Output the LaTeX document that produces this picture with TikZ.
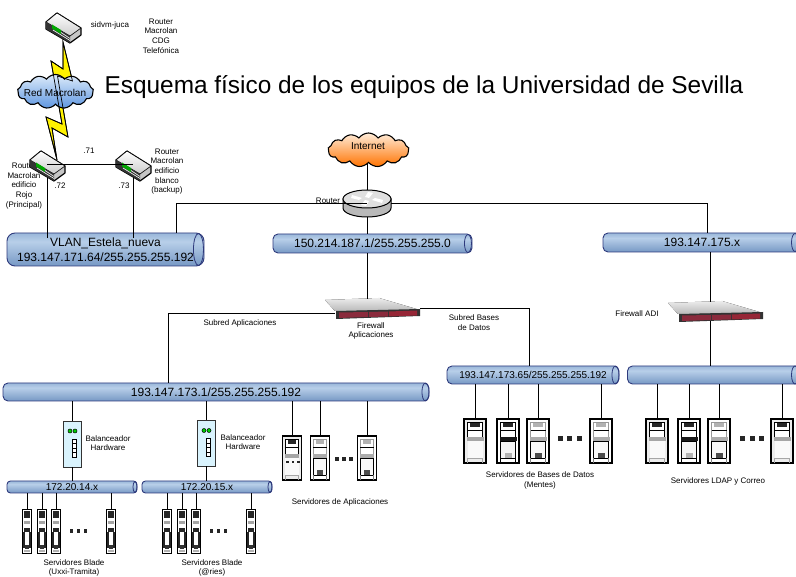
\documentclass[tikz,border=0pt]{standalone}
\usepackage{fontspec}
\setmainfont{Liberation Sans}
\usetikzlibrary{shapes.symbols}

\definecolor{tuboclaro}{HTML}{B8CFE9}
\definecolor{tubomedio}{HTML}{5F88BA}
\definecolor{tubooscuro}{HTML}{4A73AB}
\definecolor{tuboborde}{HTML}{2E3A7C}
\definecolor{nubeclara}{HTML}{DDEBFA}
\definecolor{nubeazul}{HTML}{5E96E0}
\definecolor{rojofw}{HTML}{8A2A3C}

\pgfdeclareverticalshading{tubosh}{100bp}{color(0bp)=(tubooscuro); color(62bp)=(tuboclaro); color(100bp)=(tubomedio)}

\tikzset{
    linea/.style={draw=black, line width=1pt},
    rotulo/.style={font=\fontsize{8}{9.7}\selectfont, align=center, inner sep=0pt},
    rotulonube/.style={font=\fontsize{10}{12}\selectfont, inner sep=0pt},
    tubo/.style={draw=tuboborde, line width=.9pt, inner sep=0pt, rounded corners=5pt,
        shading=tubosh, align=center},
    tubogr/.style={tubo, font=\fontsize{12}{15}\selectfont},
    tubopq/.style={tubo, font=\fontsize{10}{12}\selectfont},
    tapa/.style={draw=tuboborde, line width=.8pt},
    nube/.style={cloud, cloud puffs=13, cloud puff arc=110, draw=black, line width=1.1pt, inner sep=0pt},
    routerp/.pic={
        \draw[fill=gray!45, line width=1.2pt, line join=round] (-17,-6) -- (-6,-15) -- (18,0) -- (18,7) -- (7,15) -- (-17,1) -- cycle;
        \draw[top color=white, bottom color=gray!40, line width=.6pt, line join=round] (-17,-6) -- (-6,-15) -- (18,0) -- (7,8) -- cycle;
        \fill[black!80] (-17,-6) -- (7,8) -- (7,15) -- (-17,1) -- cycle;
        \fill[green!65!black] (-11,-3.5) -- (-2,2) -- (-2,6) -- (-11,0.5) -- cycle;
        \draw[white, line width=.6pt] (-2,4.5) -- (7,10.5) (-10,2) -- (7,12.5);
        \coordinate (-bot) at (0,12);
        \coordinate (-rayoa) at (0,14);
        \coordinate (-rayob) at (10,-6);
    },
    routerc/.pic={
        \draw[fill=gray!55, line width=1pt] (-24,0) -- (-24,9) arc[start angle=180, end angle=0, x radius=24, y radius=9] -- (24,0) -- cycle;
        \draw[fill=gray!25, line width=1pt] (0,0) ellipse [x radius=24, y radius=9];
        \fill[white] (-15,-4) -- (-5,-1) -- (-8,1) -- (-16,-1) -- cycle;
        \fill[white] (15,4) -- (5,1) -- (8,-1) -- (16,1) -- cycle;
        \fill[white] (-6,6) -- (-2,1) -- (2,2) -- (-1,7) -- cycle;
        \fill[white] (6,-6) -- (2,-1) -- (-2,-2) -- (1,-7) -- cycle;
        \coordinate (-top) at (0,-9);
        \coordinate (-c) at (0,5);
        \coordinate (-bot) at (0,18);
    },
    firewall/.pic={
        \fill[top color=gray!15, bottom color=gray!55] (-47,-8) -- (7,-10) -- (48,2) -- (-37,3) -- cycle;
        \fill[black!80] (-36,3) -- (48,1) -- (48,8) -- (-36,11) -- cycle;
        \fill[rojofw] (-33,4.5) -- (-4,4) -- (-4,9) -- (-33,10) -- cycle;
        \fill[rojofw] (-3,4) -- (16,3.5) -- (16,8.5) -- (-3,9) -- cycle;
        \fill[rojofw!90!red] (17,3.5) -- (45,2.5) -- (45,7.5) -- (17,8.5) -- cycle;
        \coordinate (-top) at (-5,-9);
        \coordinate (-izq) at (-37,6);
        \coordinate (-der) at (48,1);
        \coordinate (-bot) at (-5,10);
    },
    balanceador/.pic={
        \draw[fill=cyan!15, line width=.9pt, draw=black!80] (-9,-23) rectangle (9,23);
        \draw[fill=green!80!black, line width=.5pt] (-2,-13) circle (2);
        \draw[fill=green!80!black, line width=.5pt] (3,-13) circle (2);
        \draw[fill=white, line width=.7pt] (0,-5) rectangle (4.5,13);
        \draw[line width=.6pt] (0,-0.5) -- (4.5,-0.5) (0,4) -- (4.5,4) (0,8.5) -- (4.5,8.5);
        \coordinate (-top) at (0,-23);
        \coordinate (-bot) at (0,23);
    },
    blade/.pic={
        \draw[fill=white, line width=1pt] (-4.5,-22) rectangle (4.5,22);
        \fill[black!85] (-3,-20.5) rectangle (3,-13);
        \fill[gray!70] (-3,-10) rectangle (3,-7.5);
        \fill[black!85] (-3,-3) rectangle (3,1);
        \fill[black!85] (-4,1) rectangle (-2,17);
        \fill[black!85] (2,1) rectangle (4,17);
        \fill[black!80] (-2,14) rectangle (2,18);
        \fill[gray!60] (-3,18.5) rectangle (3,21);
        \coordinate (-top) at (0,-22);
    },
    servidora/.pic={
        \draw[fill=gray!15, line width=1.2pt] (-11,-22) rectangle (11,22);
        \draw[fill=white, line width=.7pt] (-7.5,-19) rectangle (7.5,-3);
        \fill[black!85] (-5,-17.5) rectangle (5,-14);
        \draw[line width=.6pt] (-7.5,-11) -- (7.5,-11);
        \fill[gray!70] (-8.5,-4) rectangle (8.5,0);
        \fill[gray!5] (-7.5,0) rectangle (7.5,17);
        \draw[gray!70, line width=.4pt] (-7.5,22) -- (-7.5,17) -- (7.5,17) -- (7.5,22);
        \coordinate (-top) at (0,-22);
    },
    servidorb/.pic={
        \draw[fill=white, line width=1.2pt] (-11,-22) rectangle (11,22);
        \draw[line width=.7pt] (-7.5,-19) rectangle (7.5,-3);
        \fill[black!85] (-5,-17.5) rectangle (5,-14);
        \draw[line width=.6pt] (-7.5,-11) -- (7.5,-11);
        \fill[black!90] (-8.5,-4) rectangle (8.5,0);
        \draw[fill=gray!8, line width=.7pt] (-7.5,0) rectangle (7.5,17);
        \fill[gray!60] (-3.5,12) rectangle (3.5,17);
        \draw[line width=.6pt] (-7.5,22) -- (-7.5,17) (7.5,22) -- (7.5,17);
        \coordinate (-top) at (0,-22);
    },
    servidorc/.pic={
        \draw[fill=white, line width=1.2pt] (-11,-22) rectangle (11,22);
        \draw[line width=.7pt, draw=gray!80] (-7.5,-19) rectangle (7.5,-3);
        \fill[gray!60] (-5,-17.5) rectangle (5,-14);
        \draw[line width=.6pt] (-7.5,-11) -- (7.5,-11);
        \fill[gray!65] (-8.5,-4) rectangle (8.5,0);
        \draw[fill=gray!5, line width=.7pt] (-7.5,0) rectangle (7.5,17);
        \fill[black!70] (-3.5,12) rectangle (3.5,17);
        \draw[gray, line width=.6pt] (-7.5,22) -- (-7.5,17) (7.5,22) -- (7.5,17);
        \coordinate (-top) at (0,-22);
    },
    puntos/.pic={
        \fill[black!85] (-12,-2.5) rectangle (-7,2.5);
        \fill[black!85] (-2.5,-2.5) rectangle (2.5,2.5);
        \fill[black!85] (7,-2.5) rectangle (12,2.5);
    },
}

\newcommand{\rayopath}{(sidvm-rayoa) -- (72.5,81) -- (57.5,76) -- (68,137) -- (52,128) -- (rojo-rayob) -- (46,117) -- (62,124) -- (51,61) -- (63,69) -- cycle}

\begin{document}
\begin{tikzpicture}[x=1pt, y=-1pt]
        \useasboundingbox (0,0) rectangle (796,577);
        \clip (0,0) rectangle (796,577);

        \coordinate (sidvm-rayoa) at (63,42);
        \coordinate (rojo-rayob) at (57,160);
        \fill[yellow] \rayopath;
        \draw[line width=.8pt] \rayopath;

        \node[nube, aspect=2.3, minimum width=76pt, minimum height=34pt, top color=nubeclara, bottom color=nubeazul] (macrolan) at (55.5,91.5) {};
        \draw[line width=.7pt] \rayopath;
        \node[rotulonube] (lmacrolan) at (55,92.5) {Red Macrolan};

        \node (titulo) at (424,87) {\fontsize{24.4}{26}\selectfont Esquema físico de los equipos de la Universidad de Sevilla};

        \node[rotulo] (lsidvm) at (110,25) {sidvm-juca};
        \node[rotulo] (lcdg) at (161,36) {Router\\Macrolan\\CDG\\Telefónica};
        \node[rotulo] (lrojo) at (24,186) {Router\\Macrolan\\edificio\\Rojo\\(Principal)};
        \node[rotulo] (lblanco) at (167,171.5) {Router\\Macrolan\\edificio\\blanco\\(backup)};
        \node[rotulo] (l71) at (89,151) {.71};
        \node[rotulo] (l72) at (60,186) {.72};
        \node[rotulo] (l73) at (124,186) {.73};
        \node[rotulo] (lrouter) at (328,201) {Router};

        \pic (sidvm) at (63,28) {routerp};
        \pic (rojo) at (47,166) {routerp};
        \pic (blanco) at (133,166) {routerp};

        \node[tubogr, rounded corners=8pt, minimum width=197pt, minimum height=33pt] (vlan) at (105.5,249.5) {VLAN\_Estela\_nueva\\193.147.171.64/255.255.255.192};
        \draw[tapa] ([xshift=-6pt]vlan.east) ellipse [x radius=5, y radius=16];
        \node[tubogr, minimum width=199pt, minimum height=19pt] (publica) at (372.5,243.5) {150.214.187.1/255.255.255.0};
        \draw[tapa] ([xshift=-4.5pt]publica.east) ellipse [x radius=3.5, y radius=9];
        \node[tubogr, minimum width=198pt, minimum height=19pt] (adi) at (702,242.5) {193.147.175.x};
        \draw[tapa] (795,242.5) ellipse [x radius=3.5, y radius=9];
        \node[tubogr, minimum width=426pt, minimum height=18pt] (aplic) at (216,392) {193.147.173.1/255.255.255.192};
        \draw[tapa] ([xshift=-4pt]aplic.east) ellipse [x radius=3.5, y radius=9];
        \node[tubopq, minimum width=172pt, minimum height=18pt] (bases) at (533,375) {193.147.173.65/255.255.255.192};
        \draw[tapa] ([xshift=-4pt]bases.east) ellipse [x radius=3.5, y radius=9];
        \node[tubopq, minimum width=175pt, minimum height=18pt] (ldap) at (715,375) {};
        \draw[tapa] (795,375) ellipse [x radius=3.5, y radius=9];
        \node[tubopq, rounded corners=3.5pt, minimum width=130pt, minimum height=12pt] (blade14) at (72,487) {172.20.14.x};
        \draw[tapa] ([xshift=-2.5pt]blade14.east) ellipse [x radius=2, y radius=5.5];
        \node[tubopq, rounded corners=3.5pt, minimum width=130pt, minimum height=12pt] (blade15) at (207,487) {172.20.15.x};
        \draw[tapa] ([xshift=-2.5pt]blade15.east) ellipse [x radius=2, y radius=5.5];

        \pic (fwaplic) at (372,308) {firewall};
        \pic (fwadi) at (715,311) {firewall};
        \pic (routerc) at (367,199) {routerc};

        \coordinate (cvlan) at (176,233);
        \coordinate (cadi) at (707,233);
        \coordinate (caplic) at (168,383);
        \coordinate (cbases) at (529,366);

        \draw[linea] (cvlan) |- (routerc-c);
        \draw[linea] (routerc-c) ++(24,0) -| (cadi);
        \draw[linea] (rojo-bot) -- ([yshift=-5pt]rojo-bot |- vlan.north);
        \draw[linea] (blanco-bot) -- ([yshift=-5pt]blanco-bot |- vlan.north);
        \draw[linea] (47,165) -- (133,165);
        \draw[linea] (routerc-bot) -- (routerc-bot |- publica.north);
        \draw[linea] (fwaplic-top |- publica.south) -- (fwaplic-top);
        \draw[linea] (fwaplic-izq) -| (caplic);
        \draw[linea] (fwaplic-der) -| (cbases);
        \draw[linea] (fwadi-top |- adi.south) -- (fwadi-top);
        \draw[linea] (fwadi-bot) -- (fwadi-bot |- ldap.north);

        \node[nube, aspect=2.4, minimum width=81pt, minimum height=34pt, top color=orange!15, bottom color=orange!90!red] (internet) at (368.5,150) {};
        \node[rotulonube] (linternet) at (368,146) {Internet};
        \draw[linea] (routerc-top |- internet.south) -- (routerc-top);

        \node[rotulo] (lsubapl) at (240,323) {Subred Aplicaciones};
        \node[rotulo] (lfwapl) at (371,331) {Firewall\\Aplicaciones};
        \node[rotulo] (lsubbd) at (474,322.5) {Subred Bases\\de Datos};
        \node[rotulo] (lfwadi) at (637,314) {Firewall ADI};

        \pic (bal14) at (72,444) {balanceador};
        \pic (bal15) at (206,443.5) {balanceador};
        \draw[linea] (bal14-top |- aplic.south) -- (bal14-top);
        \draw[linea] (bal14-bot) -- (bal14-bot |- blade14.north);
        \draw[linea] (bal15-top |- aplic.south) -- (bal15-top);
        \draw[linea] (bal15-bot) -- (bal15-bot |- blade15.north);
        \node[rotulo] (lbal14) at (108,443) {Balanceador\\Hardware};
        \node[rotulo] (lbal15) at (243,442) {Balanceador\\Hardware};

        \pic (bla) at (27,531) {blade};
        \pic (blb) at (42,531) {blade};
        \pic (blc) at (56,531) {blade};
        \pic (bld) at (111,531) {blade};
        \pic[scale=.72] (bldots) at (78.5,531) {puntos};
        \draw[linea] (bla-top |- blade14.south) -- (bla-top);
        \draw[linea] (blb-top |- blade14.south) -- (blb-top);
        \draw[linea] (blc-top |- blade14.south) -- (blc-top);
        \draw[linea] (bld-top |- blade14.south) -- (bld-top);
        \node[rotulo] (lbl14) at (74,568) {Servidores Blade\\(Uxxi-Tramita)};

        \pic (ble) at (167,531) {blade};
        \pic (blf) at (182,531) {blade};
        \pic (blg) at (196,531) {blade};
        \pic (blh) at (251,531) {blade};
        \pic[scale=.72] (bldots2) at (218.5,531) {puntos};
        \draw[linea] (ble-top |- blade15.south) -- (ble-top);
        \draw[linea] (blf-top |- blade15.south) -- (blf-top);
        \draw[linea] (blg-top |- blade15.south) -- (blg-top);
        \draw[linea] (blh-top |- blade15.south) -- (blh-top);
        \node[rotulo] (lbl15) at (212,568) {Servidores Blade\\(@ries)};

        \pic[xscale=.88] (apa) at (292,458) {servidora};
        \pic[xscale=.88] (apb) at (320,458) {servidorc};
        \pic[xscale=.88] (apc) at (367,458) {servidorc};
        \pic[scale=.55] (apdots) at (293,462) {puntos};
        \pic[scale=.72] (apdots2) at (344,459) {puntos};
        \draw[linea] (apa-top |- aplic.south) -- (apa-top);
        \draw[linea] (apb-top |- aplic.south) -- (apb-top);
        \draw[linea] (apc-top |- aplic.south) -- (apc-top);
        \node[rotulo] (lap) at (340,502) {Servidores de Aplicaciones};

        \pic (bda) at (475,441) {servidora};
        \pic (bdb) at (508,441) {servidorb};
        \pic (bdc) at (538,441) {servidorc};
        \pic (bdd) at (601,441) {servidorc};
        \pic (bddots) at (569.5,439) {puntos};
        \draw[linea] (bda-top |- bases.south) -- (bda-top);
        \draw[linea] (bdb-top |- bases.south) -- (bdb-top);
        \draw[linea] (bdc-top |- bases.south) -- (bdc-top);
        \draw[linea] (bdd-top |- bases.south) -- (bdd-top);
        \node[rotulo] (lbd) at (540,480.5) {Servidores de Bases de Datos\\(Mentes)};

        \pic (lda) at (657,441) {servidora};
        \pic (ldb) at (689,441) {servidorb};
        \pic (ldc) at (719,441) {servidorc};
        \pic (ldd) at (782,441) {servidora};
        \pic (lddots) at (752,439) {puntos};
        \draw[linea] (lda-top |- ldap.south) -- (lda-top);
        \draw[linea] (ldb-top |- ldap.south) -- (ldb-top);
        \draw[linea] (ldc-top |- ldap.south) -- (ldc-top);
        \draw[linea] (ldd-top |- ldap.south) -- (ldd-top);
        \node[rotulo] (lld) at (718,481) {Servidores LDAP y Correo};

\end{tikzpicture}
\end{document}
